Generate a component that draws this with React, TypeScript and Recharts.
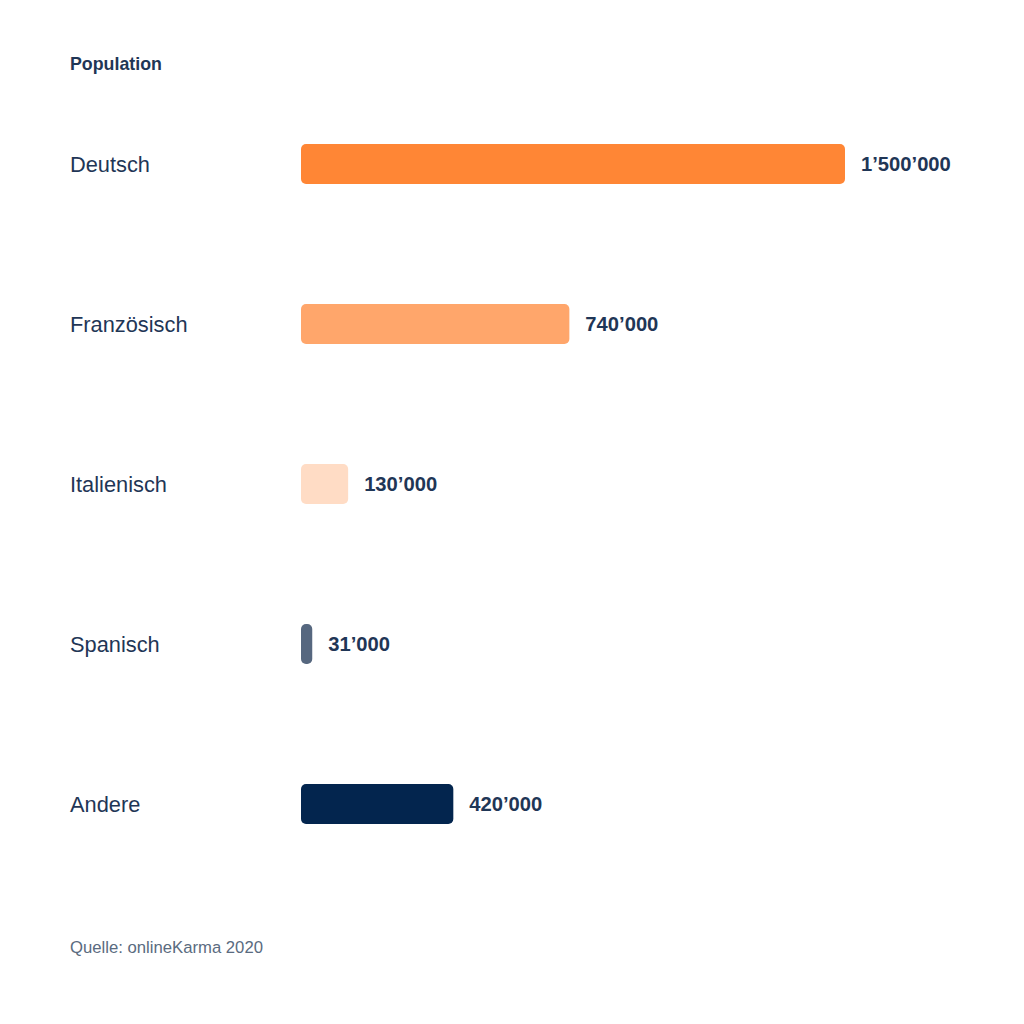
import React from 'react';
import { BarChart, Bar, XAxis, YAxis, Cell, LabelList } from 'recharts';

const languages = ['Deutsch', 'Französisch', 'Italienisch', 'Spanisch', 'Andere'];
const population = [1500000, 740000, 130000, 31000, 420000];
const barColors = ['#FF8635', '#FFA66B', '#FFDCC5', '#56677F', '#03254E'];

const textColor = '#1F3656';
const font = '"Liberation Sans", Arial, Helvetica, sans-serif';

const data = languages.map((name, i) => ({ name, value: population[i] }));

// 1500000 -> 1’500’000
const formatValue = (v: number) => String(v).replace(/\B(?=(\d{3})+(?!\d))/g, '’');

const CategoryTick = (props: any) => {
  const { y, payload } = props;
  return (
    <text x={70} y={y} dy={8} textAnchor="start" fill={textColor} fontSize={21.8} fontFamily={font}>
      {payload.value}
    </text>
  );
};

export default function App() {
  return (
    <div style={{ position: 'absolute', top: 0, left: 0, width: 1024, height: 1024, background: '#fff', fontFamily: font }}>
      <div style={{ position: 'absolute', left: 70, top: 54, fontSize: 17.8, fontWeight: 700, color: textColor }}>
        Population
      </div>
      <BarChart
        width={1024}
        height={1024}
        data={data}
        layout="vertical"
        margin={{ top: 84, right: 179, bottom: 140, left: 70 }}
      >
        <XAxis type="number" domain={[0, 1500000]} hide />
        <YAxis
          type="category"
          dataKey="name"
          width={231}
          axisLine={false}
          tickLine={false}
          tick={<CategoryTick />}
        />
        <Bar dataKey="value" barSize={40} radius={5} isAnimationActive={false}>
          {data.map((d, i) => (
            <Cell key={d.name} fill={barColors[i]} />
          ))}
          <LabelList
            dataKey="value"
            position="right"
            offset={16}
            formatter={(v: any) => formatValue(Number(v))}
            fill={textColor}
            fontSize={20.2}
            fontWeight={700}
            fontFamily={font}
          />
        </Bar>
      </BarChart>
      <div style={{ position: 'absolute', left: 70, top: 938, fontSize: 16.7, color: '#5A6B80' }}>
        Quelle: onlineKarma 2020
      </div>
    </div>
  );
}
